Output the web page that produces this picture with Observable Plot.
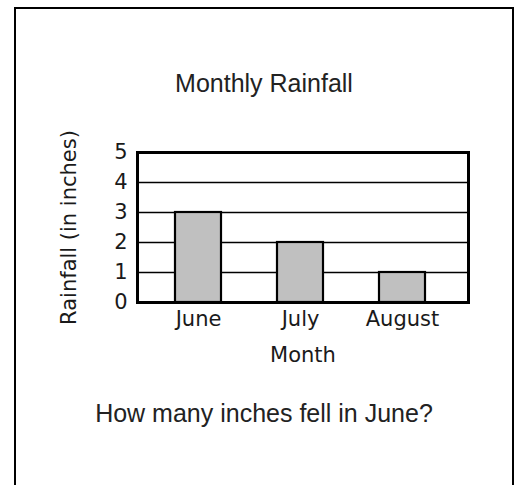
<!DOCTYPE html>
<html>
<head>
<meta charset="utf-8">
<script src="https://cdn.jsdelivr.net/npm/d3@7"></script>
<script src="https://cdn.jsdelivr.net/npm/@observablehq/plot@0.6"></script>
<style>
  html, body { margin: 0; padding: 0; background: #fff; overflow: hidden; }
  #page { position: relative; width: 519px; height: 485px; overflow: hidden; }
  #border { position: absolute; left: 14px; top: 7px; width: 496px; height: 520px;
            border: 2px solid #000; border-bottom: none; }
  .txt { position: absolute; left: 14px; width: 500px; text-align: center;
         font-family: "Liberation Sans", Arial, sans-serif; font-size: 25px;
         line-height: 25px; color: #222; white-space: nowrap; }
  #chart { position: absolute; left: 0; top: 0; }
</style>
</head>
<body>
<div id="page">
  <div id="border"></div>
  <div class="txt" id="title" style="top:71px">Monthly Rainfall</div>
  <div id="chart"></div>
  <div class="txt" id="question" style="top:401px">How many inches fell in June?</div>
</div>
<script>
const months = ["June", "July", "August"];
const rainfall = [3, 2, 1];
const yTicks = [0, 1, 2, 3, 4, 5];
const gridValues = [1, 2, 3, 4];
const yLabel = "Rainfall (in inches)";
const xLabel = "Month";

const data = months.map((m, i) => ({month: m, value: rainfall[i]}));

const chart = Plot.plot({
  width: 519,
  height: 485,
  marginLeft: 137,
  marginRight: 51,
  marginTop: 152,
  marginBottom: 183,
  style: {fontFamily: "'DejaVu Sans', Verdana, sans-serif", fontSize: "21px", color: "#1a1a1a", background: "transparent", overflow: "visible"},
  x: {domain: months, paddingInner: 0.55, paddingOuter: 0.394, align: 0.47, label: null},
  y: {domain: [0, 5], label: null},
  marks: [
    Plot.ruleY(gridValues, {stroke: "#000", strokeWidth: 1.5}),
    Plot.barY(data, {x: "month", y: "value", fill: "#c0c0c0", stroke: "#000", strokeWidth: 2.2}),
    Plot.frame({stroke: "#000", strokeWidth: 3}),
    Plot.axisY({ticks: yTicks, tickFormat: "d", tickSize: 0, tickPadding: 10, label: null, fill: "#1a1a1a", fontSize: 21}),
    Plot.axisX({tickSize: 0, tickPadding: 9, label: null, fill: "#1a1a1a", fontSize: 21}),
    Plot.text([yLabel], {frameAnchor: "left", dx: -68, rotate: -90, textAnchor: "middle", fill: "#1a1a1a", fontSize: 21}),
    Plot.text([xLabel], {frameAnchor: "bottom", dy: 59, fill: "#1a1a1a", fontSize: 21})
  ]
});
document.getElementById("chart").appendChild(chart);
</script>
</body>
</html>
